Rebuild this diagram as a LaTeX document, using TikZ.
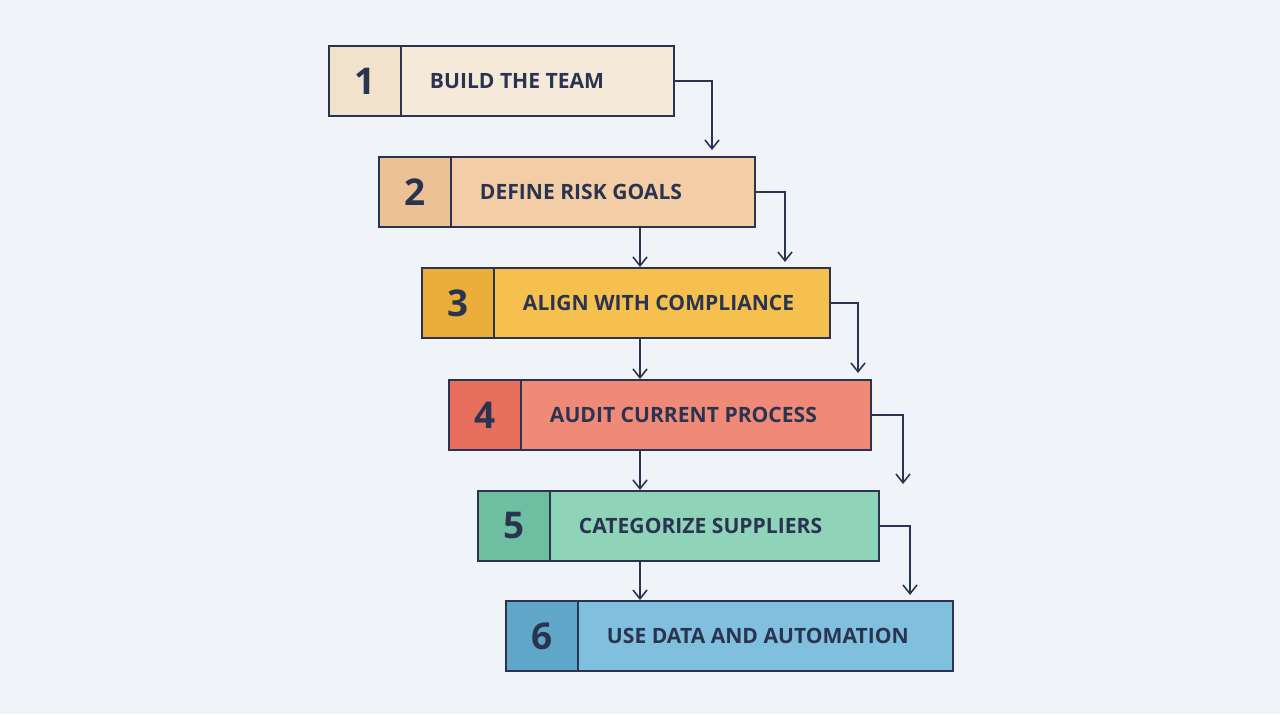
\documentclass[tikz,border=0pt]{standalone}
\usepackage{fontspec}
\setmainfont{Open Sans}
\usetikzlibrary{arrows.meta, positioning, calc}

\definecolor{bgcol}{HTML}{F0F3F7}
\definecolor{ink}{HTML}{2A3450}
\definecolor{fillA}{HTML}{F5EAD9}\definecolor{numA}{HTML}{F0E2CB}
\definecolor{fillB}{HTML}{F2CDA5}\definecolor{numB}{HTML}{EDC196}
\definecolor{fillC}{HTML}{F5C04E}\definecolor{numC}{HTML}{EBAE3A}
\definecolor{fillD}{HTML}{F08A78}\definecolor{numD}{HTML}{E86F5E}
\definecolor{fillE}{HTML}{8FD3B8}\definecolor{numE}{HTML}{6EBFA2}
\definecolor{fillF}{HTML}{80C0DE}\definecolor{numF}{HTML}{5FA6C8}

\begin{document}
\begin{tikzpicture}[
    x=0.02cm, y=-0.02cm,
    >={Straight Barb[length=5pt, width=8pt]},
    % Step box styles
    stepbox/.style={rectangle, draw=ink, line width=1pt, minimum height=1.4cm, anchor=north west, inner sep=0pt},
    numcell/.style={rectangle, draw=ink, line width=1pt, minimum height=1.4cm, minimum width=1.44cm, anchor=north west, inner sep=0pt, font=\bfseries\fontsize{21}{21}\selectfont, text=ink},
    steplabel/.style={anchor=west, font=\bfseries\fontsize{12}{12}\selectfont, text=ink},
    % Connector style
    flow/.style={->, ink, line width=0.9pt}
]
    \fill[bgcol] (0,0) rectangle (1280,714);
    \coordinate (mid) at (640,0);

    % === STEPS ===
    \foreach \n/\x/\y/\w/\c/\t in {
        1/328/45/345/A/BUILD THE TEAM,
        2/378/156/376/B/DEFINE RISK GOALS,
        3/421/267/408/C/ALIGN WITH COMPLIANCE,
        4/448/379/422/D/AUDIT CURRENT PROCESS,
        5/477/490/401/E/CATEGORIZE SUPPLIERS,
        6/505/600/447/F/USE DATA AND AUTOMATION} {
        \node[stepbox, fill=fill\c, minimum width=\w*0.02cm] (s\n) at (\x,\y) {};
        \node[numcell, fill=num\c] (n\n) at (\x,\y) {\n};
        \node[steplabel] (l\n) at ($(n\n.east)+(22,0)$) {\t};
    }

    % === SIDE CONNECTORS ===
    \coordinate (e1) at (712,150);
    \coordinate (e2) at (785,262);
    \coordinate (e3) at (858,373);
    \coordinate (e4) at (903,484);
    \coordinate (e5) at (910,595);
    \foreach \n in {1,...,5} {
        \draw[flow] (s\n.east) -| (e\n);
    }

    % === CENTRE CONNECTORS ===
    \foreach \a/\b in {2/3, 3/4, 4/5, 5/6} {
        \draw[flow] (s\a.south -| mid) -- (s\b.north -| mid);
    }
\end{tikzpicture}
\end{document}
